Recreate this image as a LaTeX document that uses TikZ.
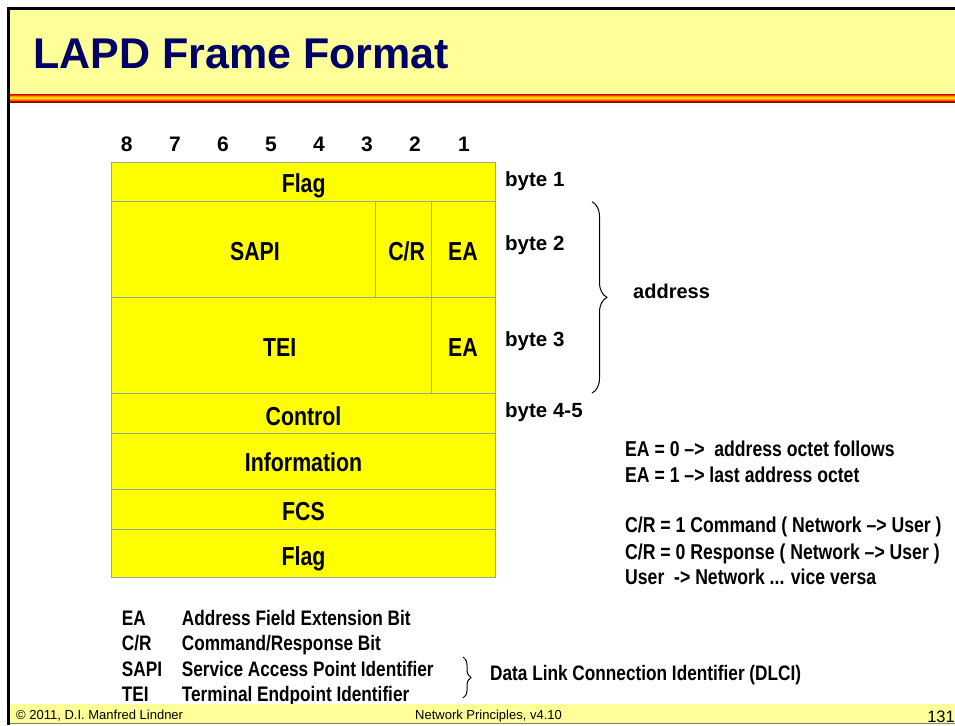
\documentclass[tikz,border=0pt]{standalone}
\usepackage{fontspec}
\setmainfont{Liberation Sans}
\newfontfamily\narrowfont[FakeStretch=0.82]{Liberation Sans}
\usetikzlibrary{decorations.pathreplacing}
\definecolor{hdr}{HTML}{FFFF99}
\definecolor{cellyel}{HTML}{FFFF00}
\definecolor{cellline}{HTML}{A0A0A0}
\definecolor{navy}{HTML}{000066}
\definecolor{footline}{HTML}{808080}
\definecolor{st1}{HTML}{CC0000}
\definecolor{st2}{HTML}{FF3300}
\definecolor{st3}{HTML}{FF9900}
\definecolor{st4}{HTML}{FFCC00}
\definecolor{st5}{HTML}{FFE000}
\definecolor{st6}{HTML}{FF9900}
\definecolor{st7}{HTML}{FF5500}
\definecolor{st8}{HTML}{DD0000}
\definecolor{st9}{HTML}{880000}
\begin{document}
\begin{tikzpicture}[x=1pt,y=-1pt,
  cell/.style={fill=cellyel,draw=cellline,line width=1pt},
  celltxt/.style={font=\narrowfont\bfseries\fontsize{26}{30}\selectfont,inner sep=0pt,anchor=base},
  bitnum/.style={font=\bfseries\fontsize{21}{26}\selectfont,inner sep=0pt,anchor=base},
  sidelbl/.style={font=\bfseries\fontsize{20.5}{24}\selectfont,inner sep=0pt,anchor=base west},
  note/.style={font=\narrowfont\bfseries\fontsize{21.5}{25}\selectfont,inner sep=0pt,anchor=base west},
  legend/.style={font=\narrowfont\bfseries\fontsize{21}{25}\selectfont,inner sep=0pt,anchor=base west},
  foot/.style={font=\fontsize{13}{16}\selectfont,inner sep=0pt,anchor=base west},
  bracestyle/.style={draw=black,line width=1pt,decorate}]
\useasboundingbox (0,0) rectangle (955,725);
\fill[white] (0,0) rectangle (955,725);
% header
\fill[hdr] (10,10) rectangle (955,94);
\foreach \c [count=\i] in {st1,st2,st3,st4,st5,st6,st7,st8,st9}
  \fill[\c] (10,93+\i) rectangle (955,94+\i);
\fill[black] (7,7) rectangle (955,10);
\fill[black] (7,7) rectangle (10,725);
\node[font=\bfseries\fontsize{43}{48}\selectfont,text=navy,inner sep=0pt,anchor=base west] (title) at (33,68) {LAPD Frame Format};
% bit numbers
\foreach \n/\x in {8/126.7,7/175,6/223,5/271,4/319,3/367,2/415,1/464}
  \node[bitnum] (bit\n) at (\x,151.7) {\n};
% frame cells
\draw[cell] (111.7,162) rectangle (495.7,201);
\draw[cell] (111.7,201) rectangle (375.7,297);
\draw[cell] (375.7,201) rectangle (431.7,297);
\draw[cell] (431.7,201) rectangle (495.7,297);
\draw[cell] (111.7,297) rectangle (431.7,393.3);
\draw[cell] (431.7,297) rectangle (495.7,393.3);
\draw[cell] (111.7,393.3) rectangle (495.7,433.7);
\draw[cell] (111.7,433.7) rectangle (495.7,489.7);
\draw[cell] (111.7,489.7) rectangle (495.7,529.7);
\draw[cell] (111.7,529.7) rectangle (495.7,577.3);
\node[celltxt] (flag1) at (303.7,192.7) {Flag};
\node[celltxt] (sapi) at (255,260) {SAPI};
\node[celltxt] (cr) at (406.7,260) {C/R};
\node[celltxt] (ea1) at (463,260) {EA};
\node[celltxt] (tei) at (279.7,356.7) {TEI};
\node[celltxt] (ea2) at (463,356.7) {EA};
\node[celltxt] (control) at (303.5,425) {Control};
\node[celltxt] (info) at (303.5,471.7) {Information};
\node[celltxt] (fcs) at (303.5,520) {FCS};
\node[celltxt] (flag2) at (303.5,565) {Flag};
% byte labels
\node[sidelbl] (byte1) at (505,186.7) {byte 1};
\node[sidelbl] (byte2) at (505,250.7) {byte 2};
\node[sidelbl] (byte3) at (505,346) {byte 3};
\node[sidelbl] (byte45) at (505,417.3) {byte 4-5};
% address brace
\coordinate (abtop) at (592,201.7);
\coordinate (abbot) at (592,393);
\draw[bracestyle,decoration={brace,amplitude=15pt}] (abtop) -- (abbot);
\node[sidelbl,font=\bfseries\fontsize{20}{24}\selectfont] (address) at (633,298.3) {address};
% notes
\node[note] (n1) at (625,456) {EA = 0 –>\ \ address octet follows};
\node[note] (n2) at (625,482.7) {EA = 1 –> last address octet};
\node[note] (n3) at (625,532.7) {C/R = 1 Command ( Network –> User )};
\node[note] (n4) at (625,559) {C/R = 0 Response ( Network –> User )};
\node[note] (n5) at (625,584.3) {User\ \ -> Network ... vice versa};
% legend
\node[legend] (lgEA) at (121.7,625) {EA};
\node[legend] (lgCR) at (121.7,650) {C/R};
\node[legend] (lgSAPI) at (121.7,676.7) {SAPI};
\node[legend] (lgTEI) at (121.7,701.7) {TEI};
\node[legend] (dEA) at (181.7,625) {Address Field Extension Bit};
\node[legend] (dCR) at (181.7,650) {Command/Response Bit};
\node[legend] (dSAPI) at (181.7,676.7) {Service Access Point Identifier};
\node[legend] (dTEI) at (181.7,701.7) {Terminal Endpoint Identifier};
\coordinate (dbtop) at (463,657);
\coordinate (dbbot) at (463,698);
\draw[bracestyle,decoration={brace,amplitude=8pt}] (dbtop) -- (dbbot);
\node[legend] (dlci) at (490,680) {Data Link Connection Identifier (DLCI)};
% footer
\fill[hdr] (10,704) rectangle (955,723);
\draw[footline,line width=1pt] (10,723.5) -- (955,723.5);
\node[foot] (copy) at (16,719.3) {© 2011, D.I. Manfred Lindner};
\node[foot] (np) at (415,719.3) {Network Principles, v4.10};
\node[font=\fontsize{16.5}{18}\selectfont,inner sep=0pt,anchor=base east] (pg) at (955,722.5) {131};
\end{tikzpicture}
\end{document}
